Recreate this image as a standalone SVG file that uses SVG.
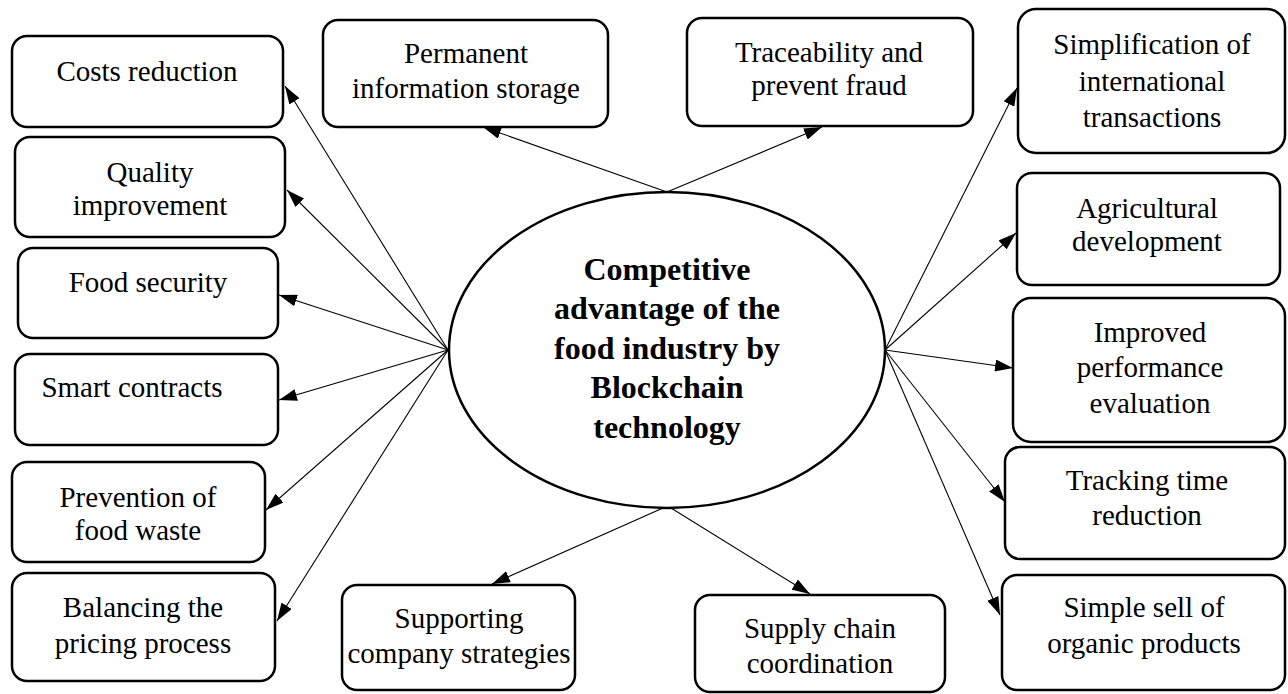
<svg xmlns="http://www.w3.org/2000/svg" width="1288" height="694" viewBox="0 0 1288 694">
  <style>
    .box { fill: #ffffff; stroke: #000000; stroke-width: 2.5; }
    .hub { fill: #ffffff; stroke: #000000; stroke-width: 2.5; }
    .lbl { font-family: "Liberation Serif", "Times New Roman", serif; font-size: 29px; fill: #000000; text-anchor: middle; }
    .hubtxt { font-family: "Liberation Serif", "Times New Roman", serif; font-size: 32px; font-weight: bold; fill: #000000; text-anchor: middle; }
    .edge { stroke: #000000; stroke-width: 1.1; fill: none; marker-end: url(#arrow); }
  </style>
  <defs>
    <marker id="arrow" viewBox="0 0 18 12" refX="18" refY="6" markerWidth="18" markerHeight="12" markerUnits="userSpaceOnUse" orient="auto">
      <path d="M0,0 L18,6 L0,12 z" fill="#000000"/>
    </marker>
  </defs>
  <rect width="1288" height="694" fill="#ffffff"/>

  <!-- connectors from the central ellipse to each benefit -->
  <g id="connectors">
    <line class="edge" x1="448" y1="350" x2="285" y2="86"/>
    <line class="edge" x1="448" y1="350" x2="287" y2="190"/>
    <line class="edge" x1="448" y1="350" x2="279" y2="295"/>
    <line class="edge" x1="448" y1="350" x2="279" y2="400"/>
    <line class="edge" x1="448" y1="350" x2="266" y2="510"/>
    <line class="edge" x1="448" y1="350" x2="277" y2="621"/>
    <line class="edge" x1="667" y1="192" x2="483" y2="127"/>
    <line class="edge" x1="667" y1="192" x2="822" y2="127"/>
    <line class="edge" x1="885" y1="350" x2="1017" y2="88"/>
    <line class="edge" x1="885" y1="350" x2="1016" y2="233"/>
    <line class="edge" x1="885" y1="350" x2="1013" y2="368"/>
    <line class="edge" x1="885" y1="350" x2="1005" y2="502"/>
    <line class="edge" x1="885" y1="350" x2="1000" y2="615"/>
    <line class="edge" x1="663" y1="508" x2="492" y2="584"/>
    <line class="edge" x1="671" y1="508" x2="810" y2="594"/>
  </g>

  <!-- central concept -->
  <g id="hub">
    <ellipse class="hub" cx="667" cy="350" rx="218" ry="158"/>
    <text class="hubtxt" x="667" y="280">Competitive</text>
    <text class="hubtxt" x="667" y="319">advantage of the</text>
    <text class="hubtxt" x="667" y="359">food industry by</text>
    <text class="hubtxt" x="667" y="398">Blockchain</text>
    <text class="hubtxt" x="667" y="438">technology</text>
  </g>

  <!-- left column -->
  <g id="costs-reduction">
    <rect class="box" x="12" y="36" width="271" height="91" rx="15"/>
    <text class="lbl" x="147" y="81">Costs reduction</text>
  </g>
  <g id="quality-improvement">
    <rect class="box" x="15" y="137" width="270" height="100" rx="15"/>
    <text class="lbl" x="150" y="182">Quality</text>
    <text class="lbl" x="150" y="215">improvement</text>
  </g>
  <g id="food-security">
    <rect class="box" x="18" y="248" width="260" height="90" rx="15"/>
    <text class="lbl" x="148" y="292">Food security</text>
  </g>
  <g id="smart-contracts">
    <rect class="box" x="15" y="354" width="263" height="91" rx="15"/>
    <text class="lbl" x="132" y="397">Smart contracts</text>
  </g>
  <g id="food-waste">
    <rect class="box" x="12" y="462" width="253" height="100" rx="15"/>
    <text class="lbl" x="138" y="507">Prevention of</text>
    <text class="lbl" x="138" y="540">food waste</text>
  </g>
  <g id="pricing">
    <rect class="box" x="12" y="573" width="263" height="108" rx="15"/>
    <text class="lbl" x="143" y="617">Balancing the</text>
    <text class="lbl" x="143" y="653">pricing process</text>
  </g>

  <!-- top row -->
  <g id="information-storage">
    <rect class="box" x="323" y="20" width="285" height="107" rx="15"/>
    <text class="lbl" x="466" y="63">Permanent</text>
    <text class="lbl" x="466" y="98">information storage</text>
  </g>
  <g id="traceability">
    <rect class="box" x="687" y="18" width="286" height="108" rx="15"/>
    <text class="lbl" x="829" y="62">Traceability and</text>
    <text class="lbl" x="829" y="95">prevent fraud</text>
  </g>

  <!-- right column -->
  <g id="international-transactions">
    <rect class="box" x="1018" y="9" width="267" height="144" rx="18"/>
    <text class="lbl" x="1152" y="54">Simplification of</text>
    <text class="lbl" x="1152" y="91">international</text>
    <text class="lbl" x="1152" y="127">transactions</text>
  </g>
  <g id="agricultural-development">
    <rect class="box" x="1017" y="173" width="263" height="112" rx="15"/>
    <text class="lbl" x="1147" y="218">Agricultural</text>
    <text class="lbl" x="1147" y="251">development</text>
  </g>
  <g id="performance-evaluation">
    <rect class="box" x="1013" y="298" width="272" height="144" rx="18"/>
    <text class="lbl" x="1150" y="342">Improved</text>
    <text class="lbl" x="1150" y="377">performance</text>
    <text class="lbl" x="1150" y="413">evaluation</text>
  </g>
  <g id="tracking-time">
    <rect class="box" x="1005" y="447" width="280" height="112" rx="15"/>
    <text class="lbl" x="1147" y="490">Tracking time</text>
    <text class="lbl" x="1147" y="525">reduction</text>
  </g>
  <g id="organic-products">
    <rect class="box" x="1002" y="575" width="283" height="115" rx="15"/>
    <text class="lbl" x="1144" y="617">Simple sell of</text>
    <text class="lbl" x="1144" y="653">organic products</text>
  </g>

  <!-- bottom row -->
  <g id="company-strategies">
    <rect class="box" x="342" y="585" width="233" height="105" rx="15"/>
    <text class="lbl" x="459" y="628">Supporting</text>
    <text class="lbl" x="459" y="663">company strategies</text>
  </g>
  <g id="supply-chain">
    <rect class="box" x="695" y="595" width="250" height="97" rx="15"/>
    <text class="lbl" x="820" y="638">Supply chain</text>
    <text class="lbl" x="820" y="673">coordination</text>
  </g>
</svg>
